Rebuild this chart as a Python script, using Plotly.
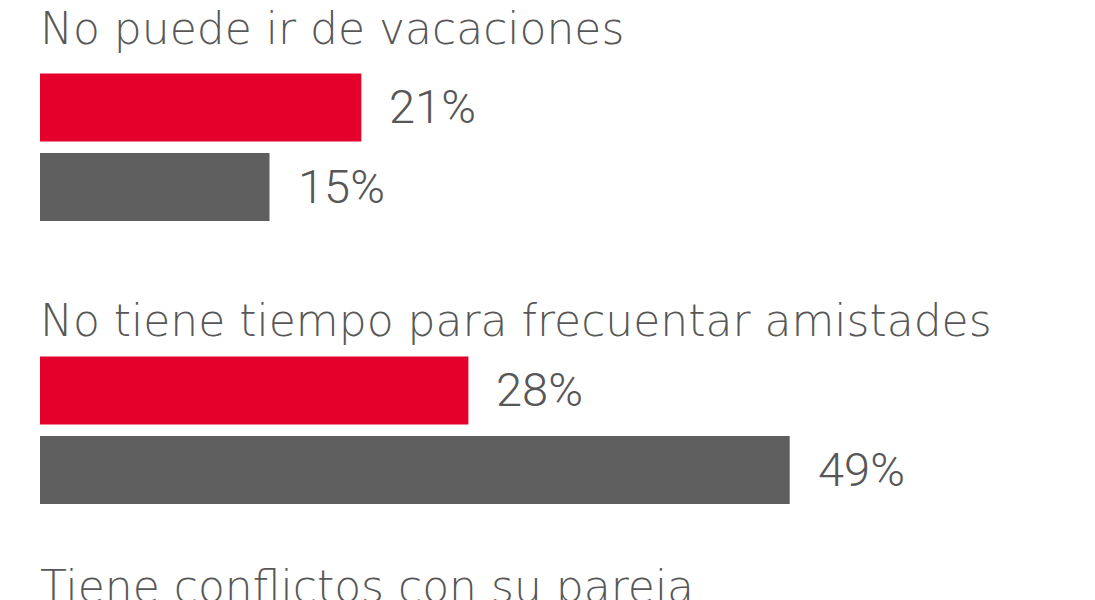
import plotly.graph_objects as go

# ---- data ----
categories = [
    "No puede ir de vacaciones",
    "No tiene tiempo para frecuentar amistades",
    "Tiene conflictos con su pareja",
]
series_names = ["Serie A", "Serie B"]
values_a = [21, 28, None]
values_b = [15, 49, None]

# ---- layout constants (page pixels, 1 y-unit = 1 px) ----
W, H = 1095, 600
PAGE_OFF = 8          # default body margin of the page
PX_PER_PCT = 15.3
LEFT_PX = 40
GROUP_PITCH = 283
BAR_PITCH = 79.5
FIRST_CENTER = 107.5
BAR_H = 68
TITLE_CAP_TOP = [11, 303, 569]

RED = "#E4002B"
GREY = "#5F5F5F"
TEXT = "#575757"
LABEL_FONT = "Roboto"
TITLE_FONT = "DejaVu Sans"

fig = go.Figure()
series = [values_a, values_b]
colors = [RED, GREY]
for s, (vals, col) in enumerate(zip(series, colors)):
    ys = [FIRST_CENTER + GROUP_PITCH * g + BAR_PITCH * s for g in range(len(categories))]
    fig.add_trace(go.Bar(
        x=vals, y=ys, orientation="h", width=BAR_H,
        marker=dict(color=col, line=dict(width=0)),
        name=series_names[s], showlegend=False, hoverinfo="x",
    ))
    for v, y in zip(vals, ys):
        if v is None:
            continue
        fig.add_annotation(
            x=v, y=y, xref="x", yref="y", text=f"{v}%", showarrow=False,
            xanchor="left", yanchor="middle", xshift=26, yshift=1,
            font=dict(family=LABEL_FONT, size=47, color=TEXT, weight=300),
        )

for g, cat in enumerate(categories):
    fig.add_annotation(
        x=0, y=TITLE_CAP_TOP[g], xref="x", yref="y", text=cat, showarrow=False,
        xanchor="left", yanchor="top", xshift=-2, yshift=10,
        font=dict(family=TITLE_FONT, size=44, color=TEXT, weight=200),
    )

fig.update_layout(
    width=W, height=H,
    margin=dict(l=0, r=0, t=0, b=0),
    paper_bgcolor="white", plot_bgcolor="white",
    barmode="overlay",
    xaxis=dict(range=[-(LEFT_PX - PAGE_OFF) / PX_PER_PCT,
                      (W - LEFT_PX + PAGE_OFF) / PX_PER_PCT],
               visible=False, fixedrange=True),
    yaxis=dict(range=[H + PAGE_OFF, PAGE_OFF], visible=False, fixedrange=True),
)

fig.write_html("out.html")
